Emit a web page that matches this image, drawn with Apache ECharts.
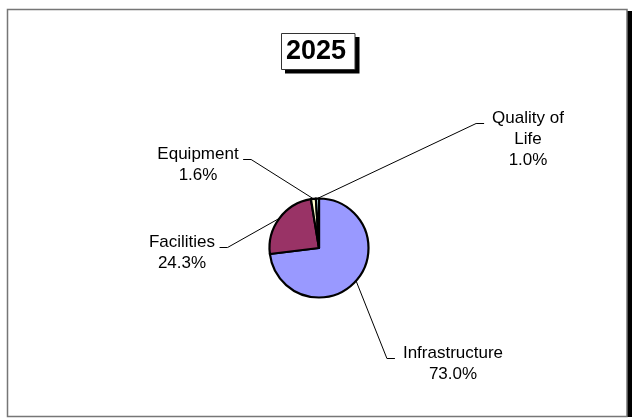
<!DOCTYPE html>
<html>
<head>
<meta charset="utf-8">
<script src="https://cdn.jsdelivr.net/npm/echarts@6/dist/echarts.min.js"></script>
<style>
  html, body { margin: 0; padding: 0; background: #fff; }
  #chart { width: 632px; height: 418px; }
</style>
</head>
<body>
<div id="chart"></div>
<script>
// Capital spending mix, 2025 (percent of total)
const chartTitle = '2025';
const categories = ['Infrastructure', 'Facilities', 'Equipment', 'Quality of\nLife'];
const shares = [73.0, 24.3, 1.6, 1.0];
const sliceColors = ['#9999FF', '#993366', '#FFFFCC', '#CCFFFF'];

const FONT = '"Liberation Sans", Arial, sans-serif';

// Label block placement: centre x, top y, and which side of the text the leader joins
const labelSpots = [
  { x: 453, y: 343, lineAt: 'left' },
  { x: 182, y: 232, lineAt: 'right' },
  { x: 198, y: 144, lineAt: 'right' },
  { x: 528, y: 108, lineAt: 'left' }
];

const chart = echarts.init(document.getElementById('chart'), null, { renderer: 'canvas' });

chart.setOption({
  animation: false,
  backgroundColor: '#fff',
  graphic: [
    // frame shadow (right edge)
    { type: 'rect', z: -20, silent: true,
      shape: { x: 12, y: 11, width: 630, height: 406 },
      style: { fill: '#000' } },
    // frame
    { type: 'rect', z: -10, silent: true,
      shape: { x: 7.5, y: 9.5, width: 619.5, height: 407 },
      style: { fill: '#fff', stroke: '#767676', lineWidth: 1.5 } },
    // title box shadow
    { type: 'rect', z: -5, silent: true,
      shape: { x: 285, y: 37, width: 74.5, height: 36.5 },
      style: { fill: '#000' } },
    // title box
    { type: 'rect', z: -4, silent: true,
      shape: { x: 281.5, y: 33.5, width: 73.5, height: 36 },
      style: { fill: '#fff', stroke: '#333', lineWidth: 1 } }
  ],
  title: {
    text: chartTitle,
    left: 'center',
    top: 38,
    padding: 0,
    textStyle: { fontFamily: FONT, fontWeight: 'bold', fontSize: 27, color: '#000' }
  },
  series: [{
    type: 'pie',
    center: [319, 248],
    radius: 49.5,
    startAngle: 90,
    clockwise: true,
    avoidLabelOverlap: false,
    emphasis: { disabled: true },
    itemStyle: { borderColor: '#000', borderWidth: 2.2 },
    data: categories.map((name, i) => ({
      name: name,
      value: shares[i],
      itemStyle: { color: sliceColors[i] }
    })),
    label: {
      show: true,
      position: 'outside',
      formatter: p => p.name + '\n' + p.value.toFixed(1) + '%',
      fontFamily: FONT,
      fontSize: 17,
      lineHeight: 21,
      color: '#000',
      align: 'center'
    },
    labelLine: {
      show: true,
      length: 10,
      length2: 10,
      lineStyle: { color: '#000', width: 1 }
    },
    labelLayout: function (params) {
      const spot = labelSpots[params.dataIndex];
      const w = params.labelRect.width;
      const ly = spot.y + 15.5;
      let end, corner;
      if (spot.lineAt === 'left') {
        end = spot.x - w / 2 - 8;
        corner = end - 8;
      } else {
        end = spot.x + w / 2 + 4.5;
        corner = end + 8;
      }
      const start = params.labelLinePoints ? params.labelLinePoints[0] : [corner, ly];
      return {
        x: spot.x,
        y: spot.y,
        align: 'center',
        verticalAlign: 'top',
        labelLinePoints: [start, [corner, ly], [end, ly]]
      };
    }
  }]
});
</script>
</body>
</html>
